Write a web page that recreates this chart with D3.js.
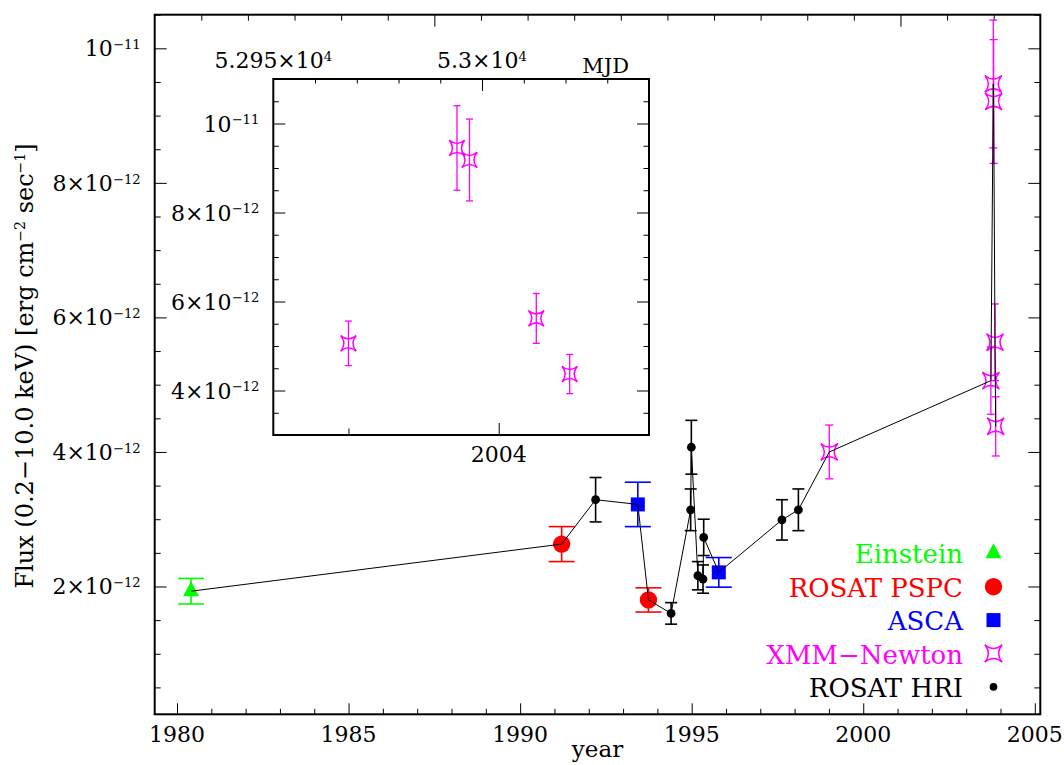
<!DOCTYPE html>
<html><head><meta charset="utf-8">
<script src="https://cdn.jsdelivr.net/npm/d3@7"></script>
<style>html,body{margin:0;padding:0;background:#fff}svg{display:block}text{font-family:"DejaVu Serif",serif}</style>
</head><body><svg id="c" width="1064" height="765"></svg>
<script>
// ---------- data (flux in units of 1e-12 erg cm^-2 s^-1) ----------
const einsteinYear = [1980.41];
const einsteinFlux = [1.93];
const einsteinErr  = [0.19];

const pspcYear = [1991.21, 1993.74];
const pspcFlux = [2.63, 1.80];
const pspcErr  = [0.26, 0.18];

const ascaYear = [1993.43, 1995.79];
const ascaFlux = [3.22, 2.21];
const ascaErr  = [0.33, 0.22];

const hriYear = [1992.20, 1994.40, 1994.97, 1994.99, 1995.18, 1995.33, 1995.35, 1997.63, 1998.11];
const hriFlux = [3.29, 1.60, 3.14, 4.07, 2.16, 2.11, 2.73, 2.99, 3.14];
const hriErr  = [0.33, 0.16, 0.31, 0.40, 0.21, 0.21, 0.27, 0.30, 0.31];

const xmmYear = [1999.01, 2003.72, 2003.79, 2003.80, 2003.84, 2003.86];
const xmmFlux = [4.00, 5.06, 9.47, 9.21, 5.63, 4.38];
const xmmErr  = [0.40, 0.50, 0.95, 0.92, 0.57, 0.44];

// inset (XMM-Newton 2003-2004)
const insetMJD  = [52968, 52994, 52997, 53013, 53021];
const insetFlux = [5.06, 9.45, 9.18, 5.62, 4.37];
const insetErr  = [0.50, 0.95, 0.92, 0.56, 0.44];

// ticks
const yMajorTicks = [2, 4, 6, 8, 10];
const yMajorMant  = ["2×10", "4×10", "6×10", "8×10", "10"];
const yMajorExp   = ["−12", "−12", "−12", "−12", "−11"];
const xMajorTicks = [1980, 1985, 1990, 1995, 2000, 2005];
const insetYTicks = [4, 6, 8, 10];
const insetYMant  = ["4×10", "6×10", "8×10", "10"];
const insetYExp   = ["−12", "−12", "−12", "−11"];
const insetMJDLabelTicks = [52950, 53000];
const insetMJDMant = ["5.295×10", "5.3×10"];
const insetMJDExp  = ["4", "4"];
const insetYearTicks = [2004];

const legendNames  = ["Einstein", "ROSAT PSPC", "ASCA", "XMM−Newton", "ROSAT HRI"];
const legendColors = ["#00ff00", "#ff0000", "#0000ff", "#ff00ff", "#000000"];

// ---------- layout ----------
const svg = d3.select("#c");
const L = 154.7, R = 1040.3, T = 14.7, B = 714.3;
const x = d3.scaleLinear().domain([1979.35, 2005.16]).range([L, R]);
const xMJD = d3.scaleLinear().domain([44000, 53500]).range([L, R]);
const y = d3.scaleLinear().domain([0.1, 10.5]).range([B, T]);

const IL = 273.3, IR = 649, IT = 79, IB = 435;
const xi = d3.scaleLinear().domain([52950, 53040]).range([IL, IR]);
const xiYear = d3.scaleLinear().domain([2003.85, 2004.10]).range([IL, IR]);
const yi = d3.scaleLinear().domain([3, 11]).range([IB, IT]);

const FS = 22;
function supLabel(g, xx, yy, anchor, mant, exp, fs) {
  const t = g.append("text").attr("x", xx).attr("y", yy).attr("text-anchor", anchor)
    .attr("font-size", fs).attr("fill", "#000");
  t.append("tspan").text(mant);
  t.append("tspan").attr("font-size", fs * 0.6).attr("dy", -fs * 0.33).text(exp);
  return t;
}

function styleAxis(g) {
  g.select(".domain").remove();
  g.selectAll(".tick line").attr("stroke", "#000").attr("stroke-width", 1);
  g.selectAll(".tick text").remove();
}

function range(a, b, s) { return d3.range(a, b + s / 2, s); }

// ---------- main axes ticks ----------
const gAx = svg.append("g");
gAx.append("g").attr("transform", `translate(0,${B})`)
  .call(d3.axisBottom(x).tickValues(range(1980, 2005, 1).filter(v => v % 5 !== 0)).tickSize(-5.5)).call(styleAxis);
gAx.append("g").attr("transform", `translate(0,${B})`)
  .call(d3.axisBottom(x).tickValues(xMajorTicks).tickSize(-11)).call(styleAxis);
gAx.append("g").attr("transform", `translate(0,${T})`)
  .call(d3.axisTop(xMJD).tickValues(range(44500, 53000, 500).filter(v => v !== 47000 && v !== 52000)).tickSize(-6)).call(styleAxis);
gAx.append("g").attr("transform", `translate(0,${T})`)
  .call(d3.axisTop(xMJD).tickValues([47000, 52000]).tickSize(-12)).call(styleAxis);
[[L, d3.axisLeft], [R, d3.axisRight]].forEach(([pos, ax]) => {
  gAx.append("g").attr("transform", `translate(${pos},0)`)
    .call(ax(y).tickValues(range(0.5, 10.5, 0.5).filter(v => !yMajorTicks.includes(v))).tickSize(-6)).call(styleAxis);
  gAx.append("g").attr("transform", `translate(${pos},0)`)
    .call(ax(y).tickValues(yMajorTicks).tickSize(-12)).call(styleAxis);
});
svg.append("rect").attr("x", L).attr("y", T).attr("width", R - L).attr("height", B - T)
  .attr("fill", "none").attr("stroke", "#000").attr("stroke-width", 2);

// main labels
xMajorTicks.forEach(v => svg.append("text").attr("x", x(v)).attr("y", B + 28)
  .attr("text-anchor", "middle").attr("font-size", FS).text(v));
yMajorTicks.forEach((v, i) => supLabel(svg, L - 14, y(v) + 8, "end", yMajorMant[i], yMajorExp[i], FS));

svg.append("text").attr("x", (L + R) / 2).attr("y", 757).attr("text-anchor", "middle")
  .attr("font-size", 23).text("year");

const yt = svg.append("text").attr("transform", `translate(33,366) rotate(-90)`)
  .attr("text-anchor", "middle").attr("font-size", 24);
yt.append("tspan").text("Flux (0.2−10.0 keV) [erg cm");
yt.append("tspan").attr("font-size", 14).attr("dy", -8).text("−2");
yt.append("tspan").attr("dy", 8).text(" sec");
yt.append("tspan").attr("font-size", 14).attr("dy", -8).text("−1");
yt.append("tspan").attr("dy", 8).text("]");

// ---------- inset axes ----------
const gIn = svg.append("g");
gIn.append("g").attr("transform", `translate(0,${IT})`)
  .call(d3.axisTop(xi).tickValues(range(52960, 53030, 10).filter(v => v !== 53000)).tickSize(-4.5)).call(styleAxis);
gIn.append("g").attr("transform", `translate(0,${IT})`)
  .call(d3.axisTop(xi).tickValues([53000]).tickSize(-12)).call(styleAxis);
gIn.append("g").attr("transform", `translate(0,${IB})`)
  .call(d3.axisBottom(xiYear).tickValues([2003.9]).tickSize(-6.5)).call(styleAxis);
gIn.append("g").attr("transform", `translate(0,${IB})`)
  .call(d3.axisBottom(xiYear).tickValues(insetYearTicks).tickSize(-12)).call(styleAxis);
[[IL, d3.axisLeft], [IR, d3.axisRight]].forEach(([pos, ax]) => {
  gIn.append("g").attr("transform", `translate(${pos},0)`)
    .call(ax(yi).tickValues(range(3.5, 10.5, 0.5).filter(v => !insetYTicks.includes(v))).tickSize(-5.5)).call(styleAxis);
  gIn.append("g").attr("transform", `translate(${pos},0)`)
    .call(ax(yi).tickValues(insetYTicks).tickSize(-12)).call(styleAxis);
});
svg.append("rect").attr("x", IL).attr("y", IT).attr("width", IR - IL).attr("height", IB - IT)
  .attr("fill", "none").attr("stroke", "#000").attr("stroke-width", 2);

insetYTicks.forEach((v, i) => supLabel(svg, IL - 14, yi(v) + 8, "end", insetYMant[i], insetYExp[i], FS));
insetMJDLabelTicks.forEach((v, i) => supLabel(svg, xi(v), IT - 11, "middle", insetMJDMant[i], insetMJDExp[i], FS));
svg.append("text").attr("x", 629).attr("y", 73).attr("text-anchor", "end").attr("font-size", 21).text("MJD");
insetYearTicks.forEach(v => svg.append("text").attr("x", xiYear(v)).attr("y", IB + 27)
  .attr("text-anchor", "middle").attr("font-size", FS).text(v));

// ---------- markers ----------
// concave-sided square star (corners on the diagonals)
function starPath(h) {
  const c = h * 0.15;
  return `M${h},${-h} Q${c},0 ${h},${h} Q0,${c} ${-h},${h} Q${-c},0 ${-h},${-h} Q0,${-c} ${h},${-h} Z`;
}
function errBars(g, xs, ys, es, sx, sy, color, cap, sw) {
  xs.forEach((xv, i) => {
    const cx = sx(xv), y1 = sy(ys[i] + es[i]), y2 = sy(ys[i] - es[i]);
    g.append("line").attr("x1", cx).attr("x2", cx).attr("y1", y1).attr("y2", y2).attr("stroke", color).attr("stroke-width", sw);
    [y1, y2].forEach(yy => g.append("line").attr("x1", cx - cap).attr("x2", cx + cap).attr("y1", yy).attr("y2", yy)
      .attr("stroke", color).attr("stroke-width", sw));
  });
}
const drawTri = (g, cx, cy, col) => g.append("path").attr("d", `M${cx},${cy - 10} L${cx + 8},${cy + 5} L${cx - 8},${cy + 5} Z`).attr("fill", col);
const drawCirc = (g, cx, cy, col) => g.append("circle").attr("cx", cx).attr("cy", cy).attr("r", 8.7).attr("fill", col);
const drawSq = (g, cx, cy, col) => g.append("rect").attr("x", cx - 7).attr("y", cy - 7).attr("width", 14).attr("height", 14).attr("fill", col);
const drawStar = (g, cx, cy, col, h) => g.append("path").attr("d", starPath(h)).attr("transform", `translate(${cx},${cy})`)
  .attr("fill", "none").attr("stroke", col).attr("stroke-width", 1.5).attr("stroke-linejoin", "miter");
const drawDot = (g, cx, cy, col, r) => g.append("circle").attr("cx", cx).attr("cy", cy).attr("r", r).attr("fill", col);

const gm = svg.append("g");
einsteinYear.forEach((v, i) => drawTri(gm, x(v), y(einsteinFlux[i]), "#00ff00"));
pspcYear.forEach((v, i) => drawCirc(gm, x(v), y(pspcFlux[i]), "#ff0000"));
ascaYear.forEach((v, i) => drawSq(gm, x(v), y(ascaFlux[i]), "#0000ff"));
hriYear.forEach((v, i) => drawDot(gm, x(v), y(hriFlux[i]), "#000", 4.4));
xmmYear.forEach((v, i) => drawStar(gm, x(v), y(xmmFlux[i]), "#ff00ff", 8.5));

errBars(gm, einsteinYear, einsteinFlux, einsteinErr, x, y, "#00ff00", 13, 1.6);
errBars(gm, pspcYear, pspcFlux, pspcErr, x, y, "#ff0000", 13, 1.6);
errBars(gm, ascaYear, ascaFlux, ascaErr, x, y, "#0000ff", 13, 1.6);
errBars(gm, hriYear, hriFlux, hriErr, x, y, "#000", 6, 1.6);
errBars(gm, xmmYear, xmmFlux, xmmErr, x, y, "#ff00ff", 4, 1.3);

// connecting line in time order
const all = [];
[[einsteinYear, einsteinFlux], [pspcYear, pspcFlux], [ascaYear, ascaFlux], [hriYear, hriFlux], [xmmYear, xmmFlux]]
  .forEach(([ys, fs]) => ys.forEach((v, i) => all.push([v, fs[i]])));
all.sort((a, b) => a[0] - b[0]);
gm.append("path").attr("d", d3.line().x(d => x(d[0])).y(d => y(d[1]))(all))
  .attr("fill", "none").attr("stroke", "#000").attr("stroke-width", 1);

// inset points
const gi = svg.append("g");
insetMJD.forEach((v, i) => drawStar(gi, xi(v), yi(insetFlux[i]), "#ff00ff", 7.8));
errBars(gi, insetMJD, insetFlux, insetErr, xi, yi, "#ff00ff", 3.5, 1.3);

// ---------- legend ----------
const LX = 963, MX = 993.5, LY0 = 563.3, LDY = 33.4;
legendNames.forEach((n, i) => {
  const by = LY0 + i * LDY;
  svg.append("text").attr("x", LX).attr("y", by).attr("text-anchor", "end").attr("font-size", 26)
    .attr("fill", legendColors[i]).text(n);
  const cy = by - 10;
  if (i === 0) drawTri(svg, MX, cy, legendColors[i]);
  if (i === 1) drawCirc(svg, MX, cy, legendColors[i]);
  if (i === 2) drawSq(svg, MX, cy, legendColors[i]);
  if (i === 3) drawStar(svg, MX, cy, legendColors[i], 8.7);
  if (i === 4) drawDot(svg, MX, cy, legendColors[i], 3.8);
});
</script></body></html>
